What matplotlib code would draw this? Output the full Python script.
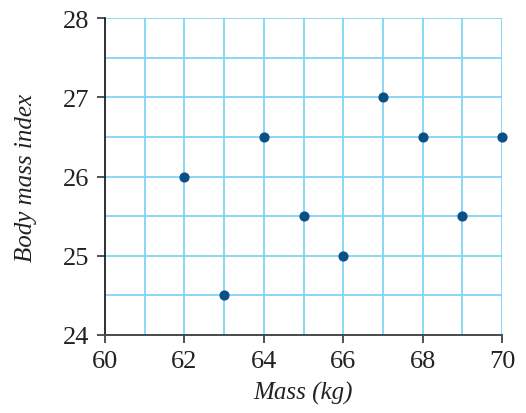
import matplotlib
matplotlib.use("Agg")
import matplotlib.pyplot as plt
from matplotlib.ticker import MultipleLocator
from matplotlib import font_manager

mass = [62, 63, 64, 65, 66, 67, 68, 69, 70]
bmi = [26, 24.5, 26.5, 25.5, 25, 27, 26.5, 25.5, 26.5]
x_ticks = [60, 62, 64, 66, 68, 70]
y_ticks = [24, 25, 26, 27, 28]

names = sorted({f.name for f in font_manager.fontManager.ttflist})
serif = 'Liberation Serif' if 'Liberation Serif' in names else 'DejaVu Serif'
plt.rcParams['font.family'] = [serif, 'DejaVu Serif']

fig = plt.figure(figsize=(5.26, 4.14), dpi=100)
ax = fig.add_axes([105/526, 1-336/414, (502-105)/526, (336-19)/414])

ax.set_xlim(60, 70)
ax.set_ylim(24, 28)
ax.xaxis.set_minor_locator(MultipleLocator(1))
ax.yaxis.set_minor_locator(MultipleLocator(0.5))
ax.set_xticks(x_ticks)
ax.set_yticks(y_ticks)
ax.grid(which='both', color='#80d4f7', linewidth=1.3, zorder=0)
ax.tick_params(which='major', direction='out', length=6, width=1.2, labelsize=19, colors='#333333', labelcolor='#222222', pad=5)
ax.tick_params(which='minor', length=0)
for s in ['top', 'right']:
    ax.spines[s].set_visible(False)
ax.spines['left'].set_color('#222222')
ax.spines['bottom'].set_color('#4a4a4a')
ax.spines['left'].set_linewidth(1.3)
ax.spines['bottom'].set_linewidth(1.4)

ax.scatter(mass, bmi, s=40, color='#0a4f86', zorder=3, clip_on=False)

ax.set_xlabel('Mass (kg)', fontsize=18, fontstyle='italic', color='#222222', labelpad=6)
ax.set_ylabel('Body mass index', fontsize=18, fontstyle='italic', color='#222222', labelpad=19)

fig.savefig('out.png', dpi=100)
